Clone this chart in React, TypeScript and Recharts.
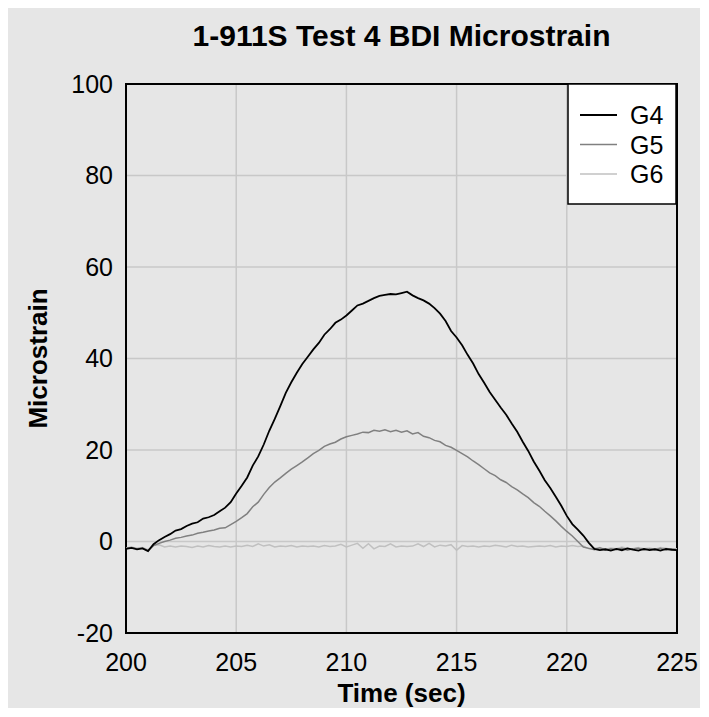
import React from "react";
import {
  LineChart,
  Line,
  XAxis,
  YAxis,
  CartesianGrid,
  Legend,
  Label,
  ReferenceArea,
} from "recharts";

const TITLE = "1-911S Test 4 BDI Microstrain";
const X_LABEL = "Time (sec)";
const Y_LABEL = "Microstrain";
const X_TICKS = [200, 205, 210, 215, 220, 225];
const Y_TICKS = [-20, 0, 20, 40, 60, 80, 100];

const TIMES = [
  200, 200.25, 200.5, 200.75, 201, 201.25, 201.5, 201.75, 202, 202.25,
  202.5, 202.75, 203, 203.25, 203.5, 203.75, 204, 204.25, 204.5, 204.75,
  205, 205.25, 205.5, 205.75, 206, 206.25, 206.5, 206.75, 207, 207.25,
  207.5, 207.75, 208, 208.25, 208.5, 208.75, 209, 209.25, 209.5, 209.75,
  210, 210.25, 210.5, 210.75, 211, 211.25, 211.5, 211.75, 212, 212.25,
  212.5, 212.75, 213, 213.25, 213.5, 213.75, 214, 214.25, 214.5, 214.75,
  215, 215.25, 215.5, 215.75, 216, 216.25, 216.5, 216.75, 217, 217.25,
  217.5, 217.75, 218, 218.25, 218.5, 218.75, 219, 219.25, 219.5, 219.75,
  220, 220.25, 220.5, 220.75, 221, 221.25, 221.5, 221.75, 222, 222.25,
  222.5, 222.75, 223, 223.25, 223.5, 223.75, 224, 224.25, 224.5, 224.75,
  225,
];

const G4 = [
  -1.6, -1.4, -1.7, -1.5, -2.1, -0.6, 0.3, 1.0, 1.6, 2.4,
  2.7, 3.4, 3.9, 4.2, 5.0, 5.3, 5.8, 6.6, 7.4, 8.6,
  10.5, 12.2, 14.0, 16.6, 18.6, 21.2, 24.2, 26.8, 29.6, 32.5,
  34.8, 36.9, 38.8, 40.4, 42.0, 43.4, 45.2, 46.4, 47.8, 48.5,
  49.4, 50.5, 51.6, 52.0, 52.6, 53.2, 53.7, 53.9, 54.1, 54.0,
  54.3, 54.6, 53.8, 53.2, 52.7, 52.0, 51.0, 49.8, 48.2, 46.0,
  44.6, 42.9, 40.8, 38.9, 36.6, 34.7, 32.7, 31.0, 29.3, 27.7,
  25.8, 24.0, 21.8, 19.8, 17.5, 15.5, 13.4, 11.7, 9.8, 7.8,
  5.6, 3.8, 2.6, 1.3, -0.3, -1.6, -1.9, -1.7, -2.0, -1.6,
  -1.9, -1.5, -1.8, -2.0, -1.6, -1.9, -1.7, -2.0, -1.6, -1.8,
  -1.9,
];

const G5 = [
  -1.5, -1.3, -1.6, -1.4, -2.0, -0.9, -0.4, 0.0, 0.3, 0.7,
  0.9, 1.2, 1.4, 1.8, 2.0, 2.3, 2.5, 2.9, 3.0, 3.7,
  4.4, 5.2, 6.1, 7.6, 8.6, 10.3, 11.8, 13.0, 13.9, 14.9,
  15.8, 16.6, 17.4, 18.3, 19.2, 19.9, 20.8, 21.3, 21.7, 22.4,
  22.9, 23.2, 23.5, 23.9, 23.8, 24.3, 24.1, 24.4, 24.0, 24.3,
  23.9, 24.2, 23.5, 23.8, 23.0, 22.7, 22.1, 21.8, 21.0, 20.6,
  19.9, 19.2, 18.5, 17.6, 16.8, 15.9, 15.0, 14.4, 13.5, 12.9,
  12.0, 11.3, 10.4, 9.6, 8.5, 7.7, 6.6, 5.6, 4.5, 3.3,
  2.2, 1.2, 0.0, -1.2, -1.5, -1.8, -1.4, -1.9, -1.6, -1.8,
  -1.5, -1.9, -1.6, -1.5, -1.9, -1.6, -1.8, -1.5, -1.9, -1.6,
  -1.8,
];

const G6 = [
  -1.4, -1.2, -1.5, -1.3, -1.8, -0.9, -0.7, -1.2, -1.0, -1.2,
  -1.0, -1.1, -1.3, -1.0, -1.2, -0.9, -1.1, -1.2, -1.0, -1.2,
  -1.0, -1.1, -0.8, -1.1, -0.5, -1.0, -0.7, -1.2, -1.0, -1.1,
  -0.9, -1.2, -1.0, -1.1, -1.0, -1.2, -0.9, -1.1, -1.0, -0.6,
  -1.2, -0.8, -0.4, -1.5, -0.5, -1.6, -1.0, -1.1, -0.5, -1.2,
  -1.0, -1.1, -1.0, -0.5, -1.1, -0.4, -1.2, -0.8, -1.0, -0.7,
  -1.9, -0.9, -1.1, -1.0, -1.2, -1.0, -1.1, -0.8, -1.0, -1.2,
  -0.8, -1.1, -1.0, -1.2, -1.1, -1.0, -1.1, -0.9, -1.2, -1.0,
  -1.1, -0.9, -1.1, -1.0, -1.6, -1.5, -1.3, -1.7, -1.4, -1.6,
  -1.2, -1.5, -1.7, -1.3, -1.6, -1.4, -1.7, -1.3, -1.5, -1.7,
  -1.6,
];

const SERIES = [
  { key: "g4", name: "G4", color: "#000000", width: 1.8 },
  { key: "g5", name: "G5", color: "#808080", width: 1.5 },
  { key: "g6", name: "G6", color: "#c0c0c0", width: 1.5 },
];

const data = TIMES.map((t, i) => ({ t, g4: G4[i], g5: G5[i], g6: G6[i] }));

const FONT = "'Liberation Sans', Arial, Helvetica, sans-serif";

const renderLegend = () => (
  <svg width={110} height={122} style={{ display: "block" }}>
    <rect x={1} y={1} width={108} height={120} fill="#ffffff" stroke="#000000" strokeWidth={1.5} />
    {SERIES.map((s, i) => {
      const cy = 32 + i * 29.5;
      return (
        <g key={s.key}>
          <line x1={13} x2={50} y1={cy} y2={cy} stroke={s.color} strokeWidth={s.width} />
          <text x={63} y={cy + 9} fontSize={25} fontFamily={FONT} fill="#000">
            {s.name}
          </text>
        </g>
      );
    })}
  </svg>
);

export default function App() {
  return (
    <div
      style={{
        position: "relative",
        width: 692,
        height: 700,
        background: "#e6e6e6",
        fontFamily: FONT,
      }}
    >
      <div
        style={{
          position: "absolute",
          left: 118,
          width: 551,
          top: 13,
          textAlign: "center",
          fontSize: 30,
          lineHeight: "30px",
          fontWeight: "bold",
          color: "#000",
          whiteSpace: "nowrap",
        }}
      >
        {TITLE}
      </div>
      <LineChart
        width={692}
        height={700}
        data={data}
        margin={{ top: 76, right: 23, bottom: 0, left: 0 }}
        style={{ position: "absolute", left: 0, top: 0 }}
      >
        <CartesianGrid stroke="#c8c8c8" strokeWidth={1.5} />
        <XAxis
          dataKey="t"
          type="number"
          domain={[200, 225]}
          ticks={X_TICKS}
          allowDataOverflow
          height={75}
          axisLine={false}
          tickLine={false}
          tickSize={0}
          tickMargin={20}
          tick={{ fontSize: 25, fill: "#000", fontFamily: FONT }}
        >
          <Label
            value={X_LABEL}
            position="insideBottom"
            offset={6}
            style={{ fontSize: 26, fontWeight: "bold", fill: "#000", fontFamily: FONT }}
          />
        </XAxis>
        <YAxis
          type="number"
          domain={[-20, 100]}
          ticks={Y_TICKS}
          allowDataOverflow
          width={118}
          axisLine={false}
          tickLine={false}
          tickSize={0}
          tickMargin={13}
          tick={{ fontSize: 25, fill: "#000", fontFamily: FONT }}
        >
          <Label
            value={Y_LABEL}
            angle={-90}
            position="insideLeft"
            offset={30}
            style={{ fontSize: 26, fontWeight: "bold", fill: "#000", fontFamily: FONT, textAnchor: "middle" }}
          />
        </YAxis>
        {SERIES.slice()
          .reverse()
          .map((s) => (
            <Line
              key={s.key}
              type="linear"
              dataKey={s.key}
              name={s.name}
              stroke={s.color}
              strokeWidth={s.width}
              dot={false}
              activeDot={false}
              isAnimationActive={false}
            />
          ))}
        <ReferenceArea
          x1={200}
          x2={225}
          y1={-20}
          y2={100}
          fill="none"
          fillOpacity={0}
          stroke="#000"
          strokeWidth={2}
        />
        <Legend
          layout="vertical"
          align="center"
          verticalAlign="middle"
          content={renderLegend}
          wrapperStyle={{ left: 559, top: 75, width: 110, height: 122 }}
        />
      </LineChart>
    </div>
  );
}
